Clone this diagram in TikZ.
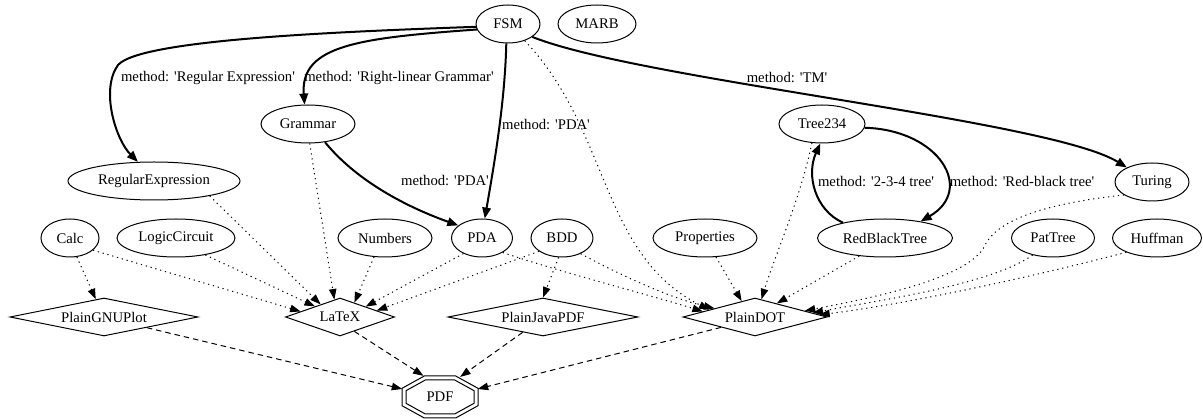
\documentclass[tikz,border=0pt]{standalone}
\usepackage{fontspec}
\setmainfont{Liberation Serif}[Ligatures=TeXOff]
\usetikzlibrary{arrows.meta,shapes.geometric}
\begin{document}
\begin{tikzpicture}[x=1pt,y=-1pt,
  font=\fontsize{14.7}{17}\selectfont,
  el/.style={ellipse,draw,line width=1pt,inner sep=0pt,minimum height=38pt},
  dm/.style={diamond,draw,line width=1pt,inner sep=0pt,aspect=4,minimum height=38pt},
  pdfnode/.style={ellipse,draw=none,inner sep=0pt,minimum width=80pt,minimum height=46pt},
  lab/.style={inner sep=0pt},
  edge/.style={line width=1pt,-{Triangle[length=10.5pt,width=7.5pt]}},
  bold/.style={line width=2pt,-{Triangle[length=11pt,width=8.5pt]}},
  dot/.style={edge,dash pattern=on 1.2pt off 3.8pt},
  dsh/.style={edge,dash pattern=on 5.5pt off 4pt},
  oct/.style={line width=1pt},
]
\useasboundingbox (0,0) rectangle (1203,419);
% nodes
\node[el,minimum width=64pt] (FSM) at (508,24) {FSM};
\node[el,minimum width=78pt] (MARB) at (597,24) {MARB};
\node[el,minimum width=94pt] (Grammar) at (308,124) {Grammar};
\node[el,minimum width=86pt] (Tree234) at (822,124) {Tree234};
\node[el,minimum width=172pt] (RE) at (154,181) {RegularExpression};
\node[el,minimum width=74pt] (Turing) at (1152,182) {Turing};
\node[el,minimum width=58pt] (Calc) at (70,238) {Calc};
\node[el,minimum width=118pt] (Logic) at (176,238) {LogicCircuit};
\node[el,minimum width=94pt] (Numbers) at (385,238) {Numbers};
\node[el,minimum width=61pt] (PDA) at (482,238) {PDA};
\node[el,minimum width=62pt] (BDD) at (562,238) {BDD};
\node[el,minimum width=104pt] (Props) at (705,238) {Properties};
\node[el,minimum width=135pt] (RBT) at (885,238) {RedBlackTree};
\node[el,minimum width=83pt] (PatTree) at (1053,238) {PatTree};
\node[el,minimum width=89pt] (Huffman) at (1157,238) {Huffman};
\node[dm,minimum width=188pt] (GNU) at (104,317) {PlainGNUPlot};
\node[dm,minimum width=109pt] (LaTeX) at (340,317) {LaTeX};
\node[dm,minimum width=190pt] (Java) at (543,317) {PlainJavaPDF};
\node[dm,minimum width=144pt] (DOT) at (755,317) {PlainDOT};
\node[pdfnode] (PDF) at (440,397) {PDF};
\begin{scope}[shift={(PDF.center)}]
  \draw[oct] (-15.7,-21) -- (15.7,-21) -- (38,-8.7) -- (38,8.7) -- (15.7,21) -- (-15.7,21) -- (-38,8.7) -- (-38,-8.7) -- cycle;
  \draw[oct] (-14.7,-17) -- (14.7,-17) -- (34,-6.3) -- (34,6.3) -- (14.7,17) -- (-14.7,17) -- (-34,6.3) -- (-34,-6.3) -- cycle;
\end{scope}
% bold labelled edges
\draw[bold] (FSM.185) .. controls (330,32) and (140,40) .. (118,65) .. controls (100,90) and (116,140) .. (RE.130);
\draw[bold] (FSM.190) .. controls (360,38) and (300,45) .. (Grammar.100);
\draw[bold] (FSM.265) .. controls (505,100) and (495,160) .. (PDA.82);
\draw[bold] (Grammar.-47) .. controls (360,185) and (415,210) .. (PDA.152);
\draw[bold] (FSM.-28) .. controls (640,80) and (1050,120) .. (Turing.150);
\draw[bold] (RBT.160) .. controls (815,210) and (806,175) .. (Tree234.-95);
\draw[bold] (Tree234.-5) .. controls (940,130) and (975,190) .. (RBT.25);
\node[lab] (l1) at (208,78) {method: 'Regular Expression'};
\node[lab] (l2) at (399,78) {method: 'Right-linear Grammar'};
\node[lab] (l3) at (546,125) {method: 'PDA'};
\node[lab] (l4) at (445,181) {method: 'PDA'};
\node[lab] (l5) at (787,78) {method: 'TM'};
\node[lab] (l6) at (876,182) {method: '2-3-4 tree'};
\node[lab] (l7) at (1022,182) {method: 'Red-black tree'};
% dotted edges
\draw[dot] (RE.-15) -- (LaTeX.147);
\draw[dot] (Grammar.-85) -- (LaTeX.108);
\draw[dot] (Calc.-70) -- (GNU.115);
\draw[dot] (Calc.-28) -- (LaTeX.172);
\draw[dot] (Logic.-30) -- (LaTeX.157);
\draw[dot] (Numbers.-120) -- (LaTeX.45);
\draw[dot] (PDA.-140) -- (LaTeX.22);
\draw[dot] (BDD.-150) -- (LaTeX.10);
\draw[dot] (BDD.-100) -- (Java.north);
\draw[dot] (PDA.-35) .. controls (560,272) and (650,295) .. (DOT.174);
\draw[dot] (BDD.-40) .. controls (620,275) and (670,298) .. (DOT.168);
\draw[dot] (FSM.-45) .. controls (610,130) and (600,255) .. (DOT.171);
\draw[dot] (Props.-60) -- (DOT.130);
\draw[dot] (Tree234.-118) .. controls (800,200) and (775,255) .. (DOT.70);
\draw[dot] (RBT.-145) -- (DOT.32);
\draw[dot] (Turing.205) .. controls (1030,205) and (995,225) .. (985,245) .. controls (970,280) and (860,300) .. (DOT.7);
\draw[dot] (PatTree.-140) .. controls (990,285) and (880,300) .. (DOT.4);
\draw[dot] (Huffman.-155) .. controls (1020,280) and (900,305) .. (DOT.2);
% dashed edges
\draw[dsh] (GNU.-14) -- (PDF.168);
\draw[dsh] (LaTeX.-45) -- (PDF.128);
\draw[dsh] (Java.-143) -- (PDF.45);
\draw[dsh] (DOT.-163) -- (PDF.12);
\end{tikzpicture}
\end{document}
